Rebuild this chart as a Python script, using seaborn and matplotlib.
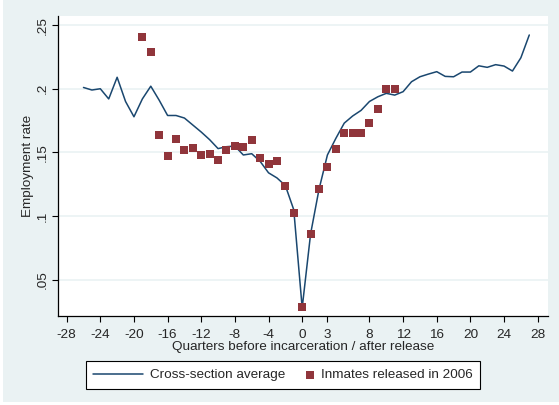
#import libraries
import pandas as pd
import numpy as np
import seaborn as sns
import matplotlib.pyplot as plt
from matplotlib.patches import Rectangle
from matplotlib.legend_handler import HandlerPathCollection

# cross-section average, quarters -26..27
avg_quarters = list(range(-26, 28))
avg_rate = [0.201, 0.199, 0.200, 0.192, 0.209, 0.190, 0.178, 0.192, 0.202, 0.191,
            0.179, 0.179, 0.177, 0.1715, 0.166, 0.160, 0.153, 0.1545, 0.155, 0.148,
            0.149, 0.143, 0.134, 0.130, 0.124, 0.105, 0.028, 0.086, 0.121, 0.148,
            0.161, 0.173, 0.1786, 0.183, 0.190, 0.1937, 0.1964, 0.195, 0.1977, 0.2055,
            0.2094, 0.2115, 0.2134, 0.2097, 0.2094, 0.2131, 0.2131, 0.218, 0.2168, 0.2189,
            0.2178, 0.2139, 0.2243, 0.2422]

# inmates released in 2006, quarters -19..11
inm_quarters = list(range(-19, 12))
inm_rate = [0.2403, 0.229, 0.1639, 0.1472, 0.1603, 0.1521, 0.1532, 0.148, 0.1487, 0.144,
            0.1519, 0.1553, 0.154, 0.160, 0.1456, 0.1406, 0.1432, 0.1239, 0.1022, 0.0284,
            0.0857, 0.121, 0.1388, 0.1524, 0.1655, 0.1655, 0.1655, 0.1728, 0.1843, 0.1995,
            0.1995]

x_ticks = [-28, -24, -20, -16, -12, -8, -4, 0, 3, 8, 12, 16, 20, 24, 28]
y_ticks = [0.05, 0.1, 0.15, 0.2, 0.25]
y_tick_labels = ['.05', '.1', '.15', '.2', '.25']

avg_df = pd.DataFrame({'quarter': avg_quarters, 'rate': avg_rate})
inm_df = pd.DataFrame({'quarter': inm_quarters, 'rate': inm_rate})

sns.set_style('white')
plt.rcParams['font.family'] = ['Liberation Sans', 'DejaVu Sans']

bg = '#EAF2F3'
navy = '#1A476F'
maroon = '#90353B'
fs = 9.7

fig = plt.figure(figsize=(5.59, 4.05), dpi=100, facecolor='white')
fig.patches.append(Rectangle((3 / 559, 3 / 405), 556 / 559, 402 / 405,
                             transform=fig.transFigure, facecolor=bg,
                             edgecolor='none', zorder=-10))
ax = fig.add_axes([58 / 559, 89 / 405, 489.7 / 559, 300 / 405])
ax.set_facecolor('white')

for yt in y_ticks:
    ax.axhline(yt, color=bg, lw=1.2, zorder=0)

sns.lineplot(data=avg_df, x='quarter', y='rate', ax=ax, color=navy, lw=1.1,
             label='Cross-section average', zorder=2)
sns.scatterplot(data=inm_df, x='quarter', y='rate', ax=ax, color=maroon, marker='s',
                s=30, linewidth=0, label='Inmates released in 2006', zorder=3)

ax.set_xlim(-29.03, 29.19)
ax.set_ylim(0.0216, 0.2571)
ax.set_xticks(x_ticks)
ax.set_xticklabels([str(t) for t in x_ticks], fontsize=fs)
ax.set_yticks(y_ticks)
ax.set_yticklabels(y_tick_labels, fontsize=fs, rotation=90, va='center')
ax.tick_params(axis='both', direction='out', length=4.5, width=0.8, color='black')
ax.tick_params(axis='x', bottom=True, pad=5)
ax.tick_params(axis='y', left=True, pad=2.5)
for side in ['top', 'right']:
    ax.spines[side].set_visible(False)
for side in ['left', 'bottom']:
    ax.spines[side].set_color('black')
    ax.spines[side].set_linewidth(0.9)

ax.set_xlabel('Quarters before incarceration / after release', fontsize=fs, labelpad=0)
ax.set_ylabel('Employment rate', fontsize=fs, labelpad=2)

handles, labels = ax.get_legend_handles_labels()
ax.get_legend().remove()
leg = fig.legend(handles, labels, loc='center', bbox_to_anchor=(283 / 559, 30 / 405),
                 ncol=2, fontsize=fs, frameon=True, fancybox=False,
                 edgecolor='black', facecolor='white', framealpha=1,
                 handlelength=3.7, handletextpad=0.5, columnspacing=-1.5,
                 borderpad=0.55,
                 handler_map={handles[1]: HandlerPathCollection(xpad=3.0)})
leg.get_frame().set_linewidth(0.8)

fig.savefig('out.png', dpi=100, facecolor=fig.get_facecolor())
